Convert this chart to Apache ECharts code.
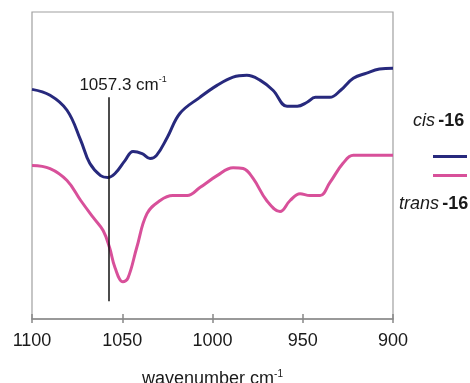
<!DOCTYPE html>
<html><head><meta charset="utf-8">
<script src="https://cdn.jsdelivr.net/npm/echarts@6/dist/echarts.min.js"></script>
<style>html,body{margin:0;padding:0;background:#fff}#c{width:470px;height:383px}</style>
</head><body><div id="c"></div>
<script>
// wavenumber (cm-1) and relative transmittance (arbitrary units)
const cisWavenumber = [1100,1090,1080.6,1073,1068,1062,1058,1054,1048.5,1044,1039,1034.6,1031,1025,1018,1007,997.5,988.6,981,973.7,966.5,958.7,953,947.6,943,935,929,922,914.6,907.5,900];
const cisValues = [74.8,72.9,68.0,58.2,50.7,46.7,46.1,47.4,51.6,54.6,53.9,52.3,53.3,59.2,67.0,72.2,76.1,78.8,79.4,77.8,74.5,69.3,69.3,70.6,72.2,72.2,74.5,78.4,80.1,81.4,81.7];
const transWavenumber = [1100,1090,1080.6,1073,1066,1060.6,1057,1054,1049.6,1046.8,1042,1036.3,1029,1022,1014,1007,997.5,988.6,983,977.5,970,962.6,957,951.5,946,940.4,935,927.7,922,900];
const transValues = [50.0,49.0,45.1,38.6,33.0,28.8,23.2,16.7,12.1,13.4,23.2,34.3,38.6,40.2,40.2,42.8,46.7,49.3,49.0,45.8,38.6,35.0,38.6,40.8,40.2,40.2,44.4,50.7,53.3,53.3];
const xTicks = [1100,1050,1000,950,900];
const markerWavenumber = 1057.3;
const markerTop = 72.2;
const markerBottom = 5.8;
const seriesNames = ['cis -16', 'trans -16'];

const chart = echarts.init(document.getElementById('c'));
const font = 'Liberation Sans, Arial, Helvetica, sans-serif';
chart.setOption({
  animation: false,
  backgroundColor: '#fff',
  grid: {left: 32, right: 77, top: 12, bottom: 64, containLabel: false, outerBoundsMode: 'none',
         show: true, borderColor: '#a0a0a0', borderWidth: 1.2},
  xAxis: [{
    type: 'value', min: 900, max: 1100, interval: 50, inverse: true,
    axisLine: {show: true, lineStyle: {color: '#888', width: 1.5}},
    axisTick: {show: true, length: 4, lineStyle: {color: '#888', width: 1.5}},
    splitLine: {show: false},
    axisLabel: {fontFamily: font, fontSize: 18, color: '#1a1a1a', margin: 13,
      formatter: v => xTicks.includes(v) ? String(v) : ''},
    name: 'wavenumber cm{sup|-1}', nameLocation: 'middle', nameGap: 50,
    nameTextStyle: {fontFamily: font, fontSize: 18, color: '#1a1a1a',
      rich: {sup: {fontFamily: font, fontSize: 10, color: '#1a1a1a', padding: [0,0,10,0]}}}
  }, {
    type: 'value', min: 900, max: 1100, interval: 50, inverse: true, position: 'bottom',
    axisLine: {show: false}, axisLabel: {show: false}, splitLine: {show: false},
    axisTick: {show: true, inside: true, length: 5, lineStyle: {color: '#888', width: 1.5}}
  }],
  yAxis: {type: 'value', min: 0, max: 100, show: false},
  legend: {
    orient: 'vertical', left: 433, top: 155, padding: 0, itemWidth: 34, itemHeight: 3, itemGap: 16,
    icon: 'rect', formatter: () => '', textStyle: {fontSize: 1},
    data: seriesNames
  },
  graphic: [
    {type: 'text', left: 413, top: 112, style: {text: '{i|cis} {b|-16}', rich: {
      i: {fontFamily: font, fontSize: 18, fontStyle: 'italic', fill: '#1a1a1a'},
      b: {fontFamily: font, fontSize: 18, fontWeight: 'bold', fill: '#1a1a1a'}}}},
    {type: 'text', left: 399, top: 195, style: {text: '{i|trans} {b|-16}', rich: {
      i: {fontFamily: font, fontSize: 18, fontStyle: 'italic', fill: '#1a1a1a'},
      b: {fontFamily: font, fontSize: 18, fontWeight: 'bold', fill: '#1a1a1a'}}}}
  ],
  series: [
    {name: seriesNames[0], type: 'line', showSymbol: false, smooth: 0.4,
     data: cisWavenumber.map((w, i) => [w, cisValues[i]]),
     lineStyle: {color: '#27297d', width: 3}, itemStyle: {color: '#27297d'},
     markLine: {silent: true, symbol: 'none',
       lineStyle: {color: '#111', width: 1.5, type: 'solid'},
       label: {show: true, position: 'start', distance: 3, padding: [0,0,0,28],
         formatter: markerWavenumber + ' cm{sup|-1}', fontFamily: font, fontSize: 17, color: '#1a1a1a',
         rich: {sup: {fontFamily: font, fontSize: 9, color: '#1a1a1a', padding: [0,0,10,0]}}},
       data: [[{coord: [markerWavenumber, markerTop]}, {coord: [markerWavenumber, markerBottom]}]]}
    },
    {name: seriesNames[1], type: 'line', showSymbol: false, smooth: 0.4,
     data: transWavenumber.map((w, i) => [w, transValues[i]]),
     lineStyle: {color: '#d8509a', width: 3}, itemStyle: {color: '#d8509a'}}
  ]
});
</script></body></html>
